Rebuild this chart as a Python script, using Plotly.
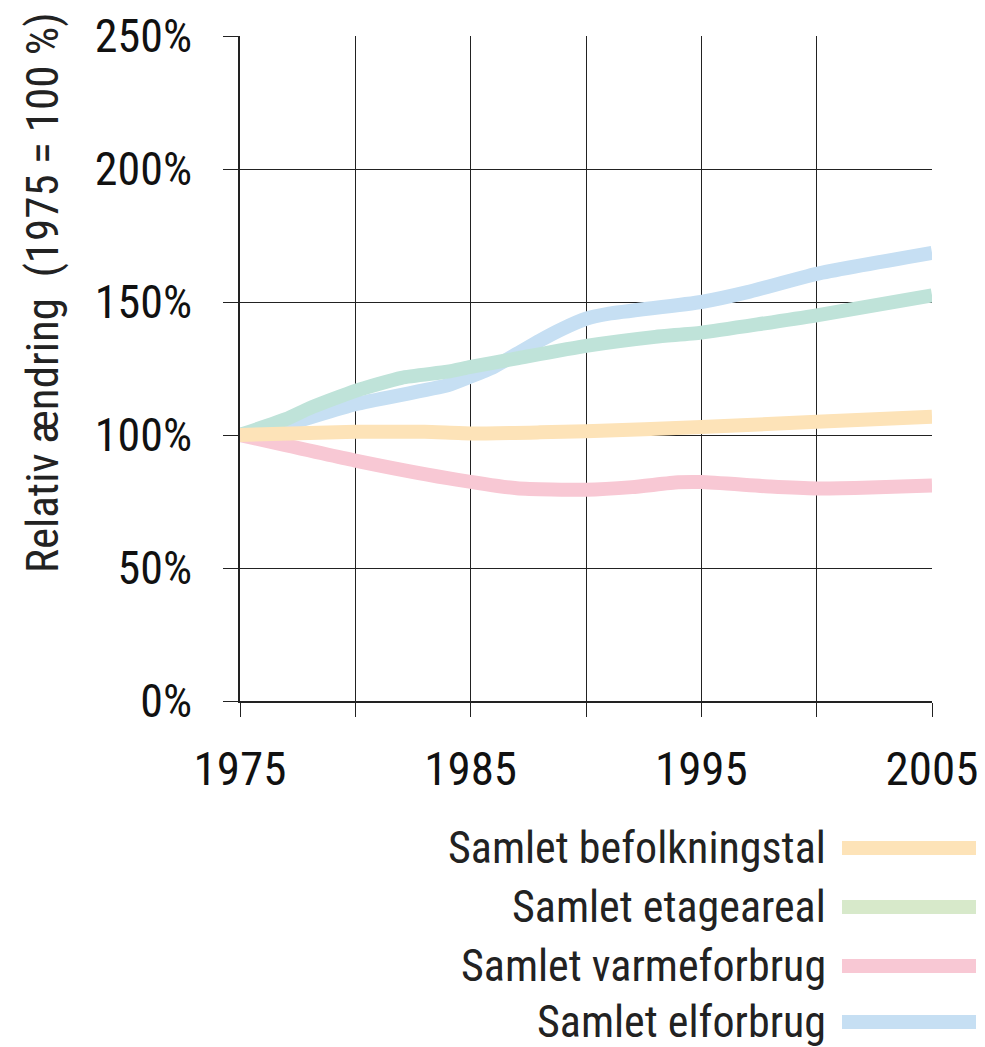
import plotly.graph_objects as go

# Data (percent, 1975 = 100 %)
years_pop = [1975, 1980, 1983, 1985, 1988, 1990, 1995, 2000, 2005]
pop = [100, 101.2, 101.2, 100.6, 101.0, 101.4, 103.0, 105.0, 106.9]

years_area = [1975, 1977, 1978, 1980, 1982, 1984, 1985, 1987, 1990, 1993, 1995, 2000, 2005]
area = [100, 106, 110, 116.6, 121.5, 123.8, 125.6, 128.8, 133.5, 136.9, 138.5, 145.0, 152.5]

years_heat = [1975, 1980, 1984, 1987, 1990, 1992, 1994, 1995, 1998, 2000, 2002, 2005]
heat = [100, 90.4, 83.8, 80.0, 79.4, 80.4, 82.2, 82.3, 80.6, 79.9, 80.2, 81.0]

years_el = [1975, 1977, 1980, 1984, 1985, 1986, 1987, 1988, 1989, 1990, 1991, 1995, 1997, 2000, 2005]
el = [100, 104, 111.6, 118.7, 122, 125.6, 130.5, 135.5, 140, 143.7, 145.6, 150, 153.7, 160.6, 168.5]

series_names = ["Samlet befolkningstal", "Samlet etageareal", "Samlet varmeforbrug", "Samlet elforbrug"]
line_colors = ["#FDE3B8", "#BFE3D9", "#F8C8D4", "#C6DFF3"]
legend_colors = ["#FDE3B8", "#D7E9CA", "#F8C8D4", "#C6DFF3"]

x_tickvals = [1975, 1980, 1985, 1990, 1995, 2000, 2005]
x_ticktext = ["1975", "", "1985", "", "1995", "", "2005"]
y_tickvals = [0, 50, 100, 150, 200, 250]
y_ticktext = ["0%", "50%", "100%", "150%", "200%", "250%"]

FONT = "Roboto Condensed, DejaVu Sans Condensed, sans-serif"
LW = 14
OFF = 8  # page body margin offset
# plot area in viewport pixels
PLOT_L, PLOT_R, PLOT_T, PLOT_B = 240, 932, 36, 701

fig = go.Figure()
data = [(years_pop, pop), (years_area, area), (years_heat, heat), (years_el, el)]
draw_order = [3, 1, 2, 0]
for i in draw_order:
    xs, ys = data[i]
    fig.add_trace(go.Scatter(
        x=xs, y=ys, mode="lines", name=series_names[i],
        line=dict(color=line_colors[i], width=LW, shape="spline", smoothing=0.5),
        showlegend=False, hoverinfo="skip",
    ))

pw = PLOT_R - PLOT_L
ph = PLOT_B - PLOT_T

def px_x(x):
    return (x - PLOT_L) / pw

def px_y(y):
    return (PLOT_B - y) / ph

# Custom legend (text left of swatch)
legend_rows = [848, 907, 966, 1022]
for name, col, yy in zip(series_names, legend_colors, legend_rows):
    fig.add_annotation(x=px_x(828), y=px_y(yy), xref="paper", yref="paper", text=name,
                       showarrow=False, xanchor="right", yanchor="middle",
                       font=dict(family=FONT, size=44, color="#222222"))
    fig.add_shape(type="line", xref="paper", yref="paper",
                  x0=px_x(842), x1=px_x(976), y0=px_y(yy), y1=px_y(yy),
                  line=dict(color=col, width=LW))

# Y axis title as annotation
fig.add_annotation(x=px_x(42), xref="paper", xanchor="center", y=px_y(293), yref="paper",
                   yanchor="middle", text="Relativ ændring\u00a0 (1975 = 100 %)",
                   textangle=-90, showarrow=False,
                   font=dict(family=FONT, size=45, color="#222222"))

fig.update_layout(
    width=985, height=1047,
    margin=dict(l=PLOT_L - OFF, r=985 - PLOT_R + OFF, t=PLOT_T - OFF,
                b=1047 - PLOT_B + OFF, autoexpand=False),
    paper_bgcolor="white", plot_bgcolor="white",
    font=dict(family=FONT, size=46, color="#111111"),
    showlegend=False,
)
fig.update_xaxes(
    range=[1975, 2005], tickvals=x_tickvals, ticktext=x_ticktext,
    showgrid=True, gridcolor="#222222", gridwidth=1,
    showline=True, linecolor="#222222", linewidth=1.5,
    ticks="outside", ticklen=14, tickcolor="#222222", tickwidth=1,
    ticklabelstandoff=12, zeroline=False, automargin=False,
    tickfont=dict(family=FONT, size=47, color="#111111"),
)
fig.update_yaxes(
    range=[0, 250], tickvals=y_tickvals, ticktext=y_ticktext,
    showgrid=True, gridcolor="#222222", gridwidth=1,
    showline=True, linecolor="#222222", linewidth=1.5,
    ticks="outside", ticklen=15, tickcolor="#222222", tickwidth=1,
    ticklabelstandoff=22, zeroline=False, automargin=False,
    tickfont=dict(family=FONT, size=46, color="#111111"),
)

fig.write_html("out.html")
